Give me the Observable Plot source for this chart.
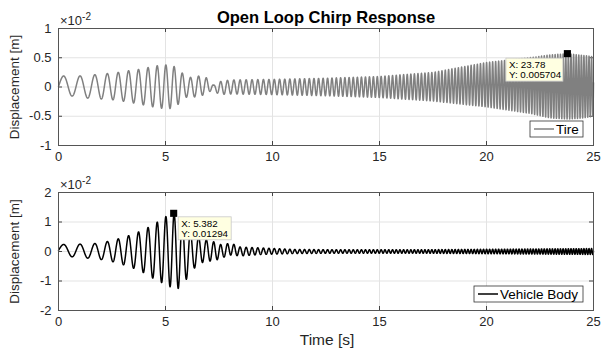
<!DOCTYPE html>
<html><head><meta charset="utf-8">
<script src="https://cdn.jsdelivr.net/npm/d3@7"></script>
<script src="https://cdn.jsdelivr.net/npm/@observablehq/plot@0.6"></script>
<style>
body{margin:0;background:#fff;}
#wrap{position:relative;width:603px;height:349px;font-family:"Liberation Sans",Arial,sans-serif;}
#wrap svg{position:absolute;left:0;}
</style></head><body><div id="wrap"></div>
<script>
// ---- texts ----
const title = "Open Loop Chirp Response";
const yLabel = "Displacement [m]";
const xLabel = "Time [s]";
const expBase = "\u00d710";
const expPow = "-2";
const xTicks = [0, 5, 10, 15, 20, 25];
const yTicksTire = [-1, -0.5, 0, 0.5, 1];
const yTicksBody = [-2, -1, 0, 1, 2];
const legendTire = "Tire";
const legendBody = "Vehicle Body";

// ---- excitation frequency read from the peak spacing (s, Hz) ----
const freqTimes = [0, 0.5, 1.4, 2.0, 2.6, 3.5, 4.4, 5.2, 6.4, 8.5, 12.5, 25];
const freqHz    = [1.0, 1.3, 1.43, 1.72, 2.0, 2.15, 2.33, 2.6, 2.63, 3.5, 4.8, 8.5];

// ---- tire response envelope (x1e-2 m) ----
const tireEnvT     = [0, 0.25, 0.64, 1.0, 1.7, 2.3, 2.8, 3.3, 3.75, 4.15, 4.55, 4.95, 5.15, 5.35, 5.55, 5.72, 5.9, 6.1, 6.5, 6.9, 7.1, 7.25, 7.5, 8, 10, 12.5, 15, 17.5, 20, 22, 23, 23.8, 24.5, 25];
const tireEnvUpper = [0.17, 0.19, 0.18, 0.19, 0.21, 0.23, 0.25, 0.28, 0.30, 0.33, 0.36, 0.38, 0.37, 0.36, 0.32, 0.26, 0.20, 0.16, 0.19, 0.16, 0.10, 0.03, 0.09, 0.12, 0.13, 0.15, 0.18, 0.25, 0.42, 0.50, 0.55, 0.57, 0.54, 0.52];
const tireEnvLower = [0.15, 0.15, 0.155, 0.18, 0.20, 0.21, 0.23, 0.26, 0.29, 0.32, 0.35, 0.37, 0.37, 0.36, 0.32, 0.22, 0.18, 0.17, 0.17, 0.12, 0.07, 0.05, 0.13, 0.12, 0.13, 0.15, 0.18, 0.24, 0.34, 0.45, 0.53, 0.55, 0.53, 0.50];

// ---- vehicle body response envelope (x1e-2 m) ----
const bodyEnvT     = [0, 0.25, 1.0, 1.7, 2.3, 2.8, 3.25, 3.7, 4.2, 4.6, 5.0, 5.38, 5.6, 5.9, 6.3, 6.6, 6.9, 7.3, 7.7, 8.0, 8.5, 9.5, 11, 13, 17, 21, 25];
const bodyEnvUpper = [0.22, 0.24, 0.25, 0.27, 0.34, 0.43, 0.53, 0.65, 0.82, 0.99, 1.18, 1.294, 1.2, 0.95, 0.55, 0.48, 0.40, 0.32, 0.20, 0.30, 0.15, 0.12, 0.07, 0.06, 0.06, 0.08, 0.10];
const bodyEnvLower = [0.14, 0.16, 0.20, 0.25, 0.30, 0.40, 0.50, 0.62, 0.80, 1.00, 1.10, 1.27, 1.25, 1.02, 0.60, 0.40, 0.34, 0.31, 0.20, 0.12, 0.15, 0.10, 0.07, 0.06, 0.06, 0.08, 0.10];

// ---- data tips ----
const tipTire = {x: 23.78, y: 0.005704};
const tipBody = {x: 5.382, y: 0.01294};

// ---- build traces ----
function lerp(ts, vs, t) {
  let i = d3.bisectRight(ts, t) - 1;
  i = Math.max(0, Math.min(ts.length - 2, i));
  const u = (t - ts[i]) / (ts[i + 1] - ts[i]);
  return vs[i] + u * (vs[i + 1] - vs[i]);
}
const dt = 0.004;
const times = d3.range(0, 25 + dt / 2, dt);
let ph = 0;
const phases = times.map((t, i) => { if (i > 0) ph += 2 * Math.PI * lerp(freqTimes, freqHz, t - dt / 2) * dt; return ph; });
function trace(envT, up, lo) {
  return times.map((t, i) => {
    const u = lerp(envT, up, t), l = lerp(envT, lo, t);
    return {t, y: (u - l) / 2 + (u + l) / 2 * Math.sin(phases[i])};
  });
}
const tireData = trace(tireEnvT, tireEnvUpper, tireEnvLower);
const bodyData = trace(bodyEnvT, bodyEnvUpper, bodyEnvLower);

const FONT = '"Liberation Sans", Arial, sans-serif';
const wrap = document.getElementById("wrap");

function panel({data, color, yTicks, height, mt, mb, tip, tipRight, legend, top, showTitle, showXLabel}) {
  const ml = 58, mr = 10;
  const fh = height - mt - mb;
  const fw = 603 - ml - mr;
  const marks = [
    Plot.ruleX(xTicks, {stroke: "#e3e3e3", strokeWidth: 1}),
    Plot.ruleY(yTicks, {stroke: "#e3e3e3", strokeWidth: 1}),
    Plot.tickX(xTicks, {x: d => d, insetTop: fh - 4, stroke: "#444"}),
    Plot.tickX(xTicks, {x: d => d, insetBottom: fh - 4, stroke: "#444"}),
    Plot.tickY(yTicks, {y: d => d, insetRight: fw - 4, stroke: "#444"}),
    Plot.tickY(yTicks, {y: d => d, insetLeft: fw - 4, stroke: "#444"}),
    Plot.line(data, {x: "t", y: "y", stroke: color, strokeWidth: 1.5}),
    Plot.frame({stroke: "#555", strokeWidth: 1}),
    Plot.dot([tip], {x: "x", y: d => d.y * 100, symbol: "square", r: 4, fill: "#000"}),
    Plot.text([yLabel], {frameAnchor: "left", textAnchor: "middle", lineAnchor: "middle", rotate: -90, dx: -44, fontSize: 13.5, fill: "#262626"})
  ];
  if (showTitle) marks.push(Plot.text([title], {frameAnchor: "top", lineAnchor: "middle", dy: -11, fontSize: 16.5, fontWeight: "bold", fill: "#000"}));
  if (showXLabel) marks.push(Plot.text([xLabel], {frameAnchor: "bottom", lineAnchor: "middle", dy: 30, dx: 1, fontSize: 15.5, fill: "#262626"}));
  const chart = Plot.plot({
    width: 603, height, marginLeft: ml, marginRight: mr, marginTop: mt, marginBottom: mb,
    style: {fontFamily: FONT, fontSize: "13px", color: "#262626", background: "#fff", overflow: "visible"},
    x: {domain: [0, 25], ticks: xTicks, tickSize: 0, tickPadding: 6, tickFormat: d => String(d), label: null},
    y: {domain: [yTicks[0], yTicks[yTicks.length - 1]], ticks: yTicks, tickSize: 0, tickPadding: 7, tickFormat: d => String(d), label: null},
    marks
  });
  chart.style.top = top + "px";
  const sx = chart.scale("x"), sy = chart.scale("y");
  const svg = d3.select(chart);
  // exponent label
  const ex = svg.append("text").attr("x", sx.apply(0) + 2).attr("y", sy.apply(yTicks[yTicks.length - 1]) - 3)
    .attr("font-size", 13).attr("fill", "#262626").attr("font-family", FONT).attr("text-anchor", "start");
  ex.append("tspan").text(expBase);
  ex.append("tspan").attr("dy", -5).attr("font-size", 10).text(expPow);
  // data tip box
  const px = sx.apply(tip.x), py = sy.apply(tip.y * 100);
  const bw = tipRight ? 53 : 57, bh = 23;
  const bx = tipRight ? px + 5 : px - 61, by = py + (tipRight ? 4 : 5);
  const g = svg.append("g").attr("font-family", FONT).attr("font-size", 9.8).attr("fill", "#000").attr("text-anchor", "start");
  g.append("rect").attr("x", bx).attr("y", by).attr("width", bw).attr("height", bh)
    .attr("fill", "#ffffe1").attr("stroke", "#c8c8c8").attr("stroke-width", 0.8);
  g.append("text").attr("x", bx + 3).attr("y", by + 10).text("X: " + tip.x);
  g.append("text").attr("x", bx + 3).attr("y", by + 20).text("Y: " + tip.y);
  // legend box
  const right = 603 - mr - 10, bottom = height - mb - 8;
  const lw = legend.w, lh = 16;
  const lg = svg.append("g").attr("font-family", FONT).attr("font-size", 13.5).attr("text-anchor", "start");
  lg.append("rect").attr("x", right - lw).attr("y", bottom - lh).attr("width", lw).attr("height", lh)
    .attr("fill", "#fff").attr("stroke", "#333").attr("stroke-width", 0.8);
  lg.append("line").attr("x1", right - lw + 4).attr("x2", right - lw + 24).attr("y1", bottom - lh / 2).attr("y2", bottom - lh / 2)
    .attr("stroke", color).attr("stroke-width", 1.5);
  lg.append("text").attr("x", right - lw + 26).attr("y", bottom - lh / 2 + 5).attr("fill", "#000").text(legend.label);
  wrap.appendChild(chart);
}

panel({data: tireData, color: "#808080", yTicks: yTicksTire, height: 175, mt: 28, mb: 30,
  tip: tipTire, tipRight: false, legend: {label: legendTire, w: 53}, top: 0, showTitle: true, showXLabel: false});
panel({data: bodyData, color: "#000", yTicks: yTicksBody, height: 174, mt: 17, mb: 39,
  tip: tipBody, tipRight: true, legend: {label: legendBody, w: 109}, top: 175, showTitle: false, showXLabel: true});
</script>
</body></html>
